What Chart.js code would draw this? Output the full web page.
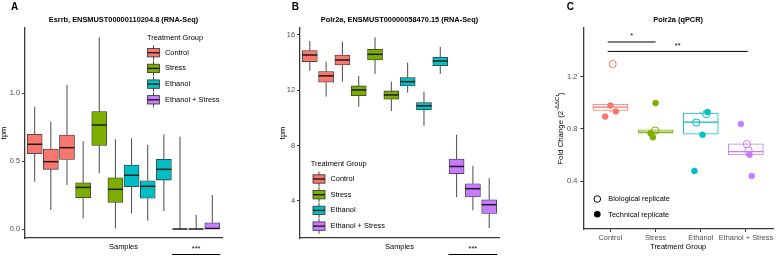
<!DOCTYPE html>
<html><head><meta charset="utf-8">
<script src="https://cdn.jsdelivr.net/npm/chart.js@4/dist/chart.umd.min.js"></script>
<style>
html,body{margin:0;padding:0;background:#fff;}
#wrap{position:relative;width:778px;height:256px;overflow:hidden;background:#fff;}
canvas{position:absolute;top:0;}
</style></head><body>
<div id="wrap">
<canvas id="cA" width="258" height="256" style="left:0px;width:258px;height:256px"></canvas>
<canvas id="cB" width="258" height="256" style="left:260px;width:258px;height:256px"></canvas>
<canvas id="cC" width="258" height="256" style="left:520px;width:258px;height:256px"></canvas>
</div>
<script>
// ---------- shared ----------
const groupNames  = ['Control', 'Stress', 'Ethanol', 'Ethanol + Stress'];
const groupColors = ['#F8766D', '#7CAE00', '#00BFC4', '#C77CFF'];

// ---------- Panel A : Esrrb (RNA-Seq), 12 samples ----------
const samplesA = [1, 2, 3, 4, 5, 6, 7, 8, 9, 10, 11, 12];
const groupA   = [0, 0, 0, 1, 1, 1, 2, 2, 2, 3, 3, 3];
const lowA  = [0.348, 0.140, 0.324, 0.079, 0.410, 0.005, 0.115, 0.061, 0.132, 0, 0, 0];
const q1A   = [0.554, 0.439, 0.512, 0.230, 0.615, 0.196, 0.311, 0.226, 0.360, 0, 0, 0];
const medA  = [0.623, 0.495, 0.598, 0.306, 0.765, 0.292, 0.395, 0.314, 0.439, 0, 0, 0.004];
const q3A   = [0.696, 0.588, 0.691, 0.340, 0.863, 0.377, 0.471, 0.355, 0.512, 0, 0, 0.046];
const highA = [0.899, 0.789, 1.059, 0.647, 1.410, 0.660, 0.667, 0.618, 0.696, 0.679, 0.103, 0.250];
const yTicksA = [0.0, 0.5, 1.0];

// ---------- Panel B : Polr2a (RNA-Seq), 12 samples ----------
const samplesB = [1, 2, 3, 4, 5, 6, 7, 8, 9, 10, 11, 12];
const groupB   = [0, 0, 0, 1, 1, 1, 2, 2, 2, 3, 3, 3];
const lowB  = [13.40, 11.54, 12.62, 10.82, 13.18, 10.50, 11.83, 9.42, 13.18, 4.26, 3.30, 2.02];
const q1B   = [14.07, 12.58, 13.83, 11.61, 14.19, 11.35, 12.31, 10.58, 13.78, 5.95, 4.27, 3.08];
const medB  = [14.55, 13.04, 14.19, 12.02, 14.60, 11.66, 12.62, 10.87, 14.12, 6.48, 4.87, 3.71];
const q3B   = [14.87, 13.35, 14.55, 12.31, 14.96, 11.95, 12.91, 11.10, 14.39, 7.01, 5.23, 4.07];
const highB = [15.57, 14.07, 15.52, 13.04, 15.83, 12.62, 14.00, 11.90, 15.15, 8.77, 6.53, 5.63];
const yTicksB = [4, 8, 12, 16];

// significance bracket under A and B (sample positions)
const sigSamplesFrom = 9.5, sigSamplesTo = 12.5, sigSamplesLabel = '***';

// ---------- Panel C : Polr2a (qPCR) ----------
const groupsC = [1, 2, 3, 4];
const lowC  = [0.925, 0.762, 0.754, 0.598];
const q1C   = [0.940, 0.767, 0.759, 0.601];
const medC  = [0.966, 0.775, 0.851, 0.626];
const q3C   = [0.989, 0.792, 0.920, 0.685];
const highC = [0.992, 0.795, 0.928, 0.690];
// biological replicates (open circles)
const bioX     = [1.05, 1.99, 2.90, 3.12, 4.02, 4.06];
const bioY     = [1.295, 0.787, 0.848, 0.913, 0.683, 0.634];
const bioGroup = [0, 1, 2, 2, 3, 3];
// technical replicates (filled circles)
const techX     = [1.00, 1.12, 0.885, 2.00, 1.89, 1.94, 3.15, 3.04, 2.86, 3.89, 4.08, 4.13];
const techY     = [0.978, 0.933, 0.894, 0.997, 0.767, 0.736, 0.928, 0.754, 0.478, 0.836, 0.601, 0.440];
const techGroup = [0, 0, 0, 1, 1, 1, 2, 2, 2, 3, 3, 3];
const yTicksC = [0.4, 0.8, 1.2];
// significance brackets
const sigCFrom  = [0.94, 0.94];
const sigCTo    = [2.00, 4.04];
const sigCY     = [1.464, 1.392];
const sigCLabel = ['*', '**'];

// ---------- styling ----------
const FONT = '"Liberation Sans", Arial, Helvetica, sans-serif';
const AX = '#3a3a3a';
const TICK_COLOR = '#4D4D4D';
const FS = 7.4;
Chart.defaults.font.family = FONT;
Chart.defaults.animation = false;

function line(ctx, x1, y1, x2, y2) { ctx.beginPath(); ctx.moveTo(x1, y1); ctx.lineTo(x2, y2); ctx.stroke(); }
function text(ctx, t, x, y, font, color, align, base) {
  ctx.font = font; ctx.fillStyle = color; ctx.textAlign = align || 'left'; ctx.textBaseline = base || 'middle';
  ctx.fillText(t, x, y);
}

// whiskers (before box) and medians (after box), from scales
const boxPlugin = {
  id: 'boxExtras',
  beforeDatasetDraw(chart, args) {
    const ds = chart.data.datasets[args.index];
    if (!ds.box) return;
    const ctx = chart.ctx, xs = chart.scales.x, ys = chart.scales.y, b = ds.box;
    ctx.save();
    ctx.lineWidth = b.whiskerWidth;
    b.x.forEach((xv, i) => {
      ctx.strokeStyle = b.whiskerColor[i];
      const px = xs.getPixelForValue(xv);
      line(ctx, px, ys.getPixelForValue(b.hi[i]), px, ys.getPixelForValue(b.q3[i]));
      line(ctx, px, ys.getPixelForValue(b.q1[i]), px, ys.getPixelForValue(b.lo[i]));
    });
    ctx.restore();
  },
  afterDatasetDraw(chart, args) {
    const ds = chart.data.datasets[args.index];
    if (!ds.box) return;
    const ctx = chart.ctx, xs = chart.scales.x, ys = chart.scales.y, b = ds.box;
    ctx.save();
    ctx.lineWidth = b.medianWidth;
    const hw = ds.barThickness / 2;
    b.x.forEach((xv, i) => {
      ctx.strokeStyle = b.medianColor[i];
      const px = xs.getPixelForValue(xv), py = ys.getPixelForValue(b.med[i]);
      line(ctx, px - hw, py, px + hw, py);
    });
    ctx.restore();
  }
};

function drawBoxLegend(ctx, titleX, titleY, keyX, keyY0, labelX) {
  text(ctx, 'Treatment Group', titleX, titleY, FS + 'px ' + FONT, '#000', 'left', 'middle');
  groupNames.forEach((g, i) => {
    const cy = keyY0 + i * 15.7, w = 12;
    ctx.save();
    ctx.strokeStyle = '#333'; ctx.lineWidth = 0.9;
    line(ctx, keyX + w / 2, cy - 7.5, keyX + w / 2, cy + 7.5);
    ctx.fillStyle = groupColors[i];
    ctx.fillRect(keyX, cy - 4.2, w, 8.4);
    ctx.lineWidth = 0.8;
    ctx.strokeRect(keyX, cy - 4.2, w, 8.4);
    ctx.strokeStyle = '#1a1a1a'; ctx.lineWidth = 1.4;
    line(ctx, keyX, cy, keyX + w, cy);
    ctx.restore();
    text(ctx, g, labelX, cy, FS + 'px ' + FONT, '#000', 'left', 'middle');
  });
}

function rnaChart(id, cfg) {
  const annot = {
    id: 'annot_' + id,
    afterDraw(chart) {
      const ctx = chart.ctx, ca = chart.chartArea, xs = chart.scales.x;
      ctx.save();
      text(ctx, cfg.letter, cfg.letterX, 9.6, 'bold 10px ' + FONT, '#000', 'left', 'alphabetic');
      text(ctx, cfg.title, (ca.left + ca.right) / 2, 19.6, 'bold ' + FS + 'px ' + FONT, '#000', 'center', 'middle');
      drawBoxLegend(ctx, ...cfg.legend);
      const x1 = xs.getPixelForValue(sigSamplesFrom), x2 = xs.getPixelForValue(sigSamplesTo);
      ctx.strokeStyle = '#000'; ctx.lineWidth = 1;
      line(ctx, x1, 254.5, x2, 254.5);
      text(ctx, sigSamplesLabel, (x1 + x2) / 2, 251, FS + 'px ' + FONT, '#000', 'center', 'alphabetic');
      ctx.restore();
    }
  };
  return new Chart(document.getElementById(id), {
    type: 'bar',
    data: { datasets: [{
      data: cfg.samples.map((s, i) => ({ x: s, y: [cfg.q1[i], cfg.q3[i]] })),
      backgroundColor: cfg.group.map(g => groupColors[g]),
      borderColor: '#333333', borderWidth: 0.8, borderSkipped: false,
      barThickness: 15,
      box: { x: cfg.samples, lo: cfg.lo, q1: cfg.q1, med: cfg.med, q3: cfg.q3, hi: cfg.hi,
             whiskerColor: cfg.samples.map(() => '#4a4a4a'), whiskerWidth: 1,
             medianColor: cfg.samples.map(() => '#1a1a1a'), medianWidth: 1.5 }
    }]},
    options: {
      responsive: false, animation: false, devicePixelRatio: 1,
      layout: { padding: cfg.padding },
      plugins: { legend: { display: false }, tooltip: { enabled: false }, title: { display: false } },
      scales: {
        x: {
          type: 'linear', min: 0.4, max: 12.6, offset: false,
          grid: { display: true, drawOnChartArea: false, drawTicks: false, offset: false },
          border: { display: true, color: AX, width: 1.3 },
          ticks: { display: false },
          title: { display: true, text: 'Samples', color: '#000', font: { family: FONT, size: FS }, padding: { top: 0, bottom: 4.3 } },
          afterFit: s => { s.height = 18; }
        },
        y: {
          type: 'linear', min: cfg.yMin, max: cfg.yMax, beginAtZero: false,
          grid: { display: true, drawOnChartArea: false, drawTicks: true, tickLength: 3, color: AX },
          border: { display: true, color: AX, width: 1.3 },
          ticks: { color: TICK_COLOR, font: { family: FONT, size: FS }, padding: 2, callback: cfg.fmt },
          afterBuildTicks: s => { s.ticks = cfg.yTicks.map(v => ({ value: v })); },
          title: { display: true, text: 'tpm', color: '#000', font: { family: FONT, size: FS }, padding: 0 },
          afterFit: s => { s.width = cfg.yWidth; }
        }
      }
    },
    plugins: [boxPlugin, annot]
  });
}

rnaChart('cA', {
  letter: 'A', letterX: 11, title: 'Esrrb, ENSMUST00000110204.8 (RNA-Seq)',
  samples: samplesA, group: groupA, lo: lowA, q1: q1A, med: medA, q3: q3A, hi: highA,
  yMin: -0.066, yMax: 1.478, yTicks: yTicksA, fmt: v => Number(v).toFixed(1),
  padding: { left: 0, top: 28, right: 36, bottom: 0 }, yWidth: 25,
  legend: [147, 37.8, 147.5, 52.7, 165]
});

rnaChart('cB', {
  letter: 'B', letterX: 31.7, title: 'Polr2a, ENSMUST00000058470.15 (RNA-Seq)',
  samples: samplesB, group: groupB, lo: lowB, q1: q1B, med: medB, q3: q3B, hi: highB,
  yMin: 1.30, yMax: 16.506, yTicks: yTicksB, fmt: v => String(v),
  padding: { left: 19, top: 28, right: 19, bottom: 0 }, yWidth: 21,
  legend: [50.7, 164.3, 53, 179, 70.5]
});

// ---------- Panel C ----------
const annotC = {
  id: 'annotC',
  afterDraw(chart) {
    const ctx = chart.ctx, ca = chart.chartArea, xs = chart.scales.x, ys = chart.scales.y;
    ctx.save();
    text(ctx, 'C', 46.7, 9.6, 'bold 10px ' + FONT, '#000', 'left', 'alphabetic');
    text(ctx, 'Polr2a (qPCR)', (ca.left + ca.right) / 2, 19.6, 'bold ' + FS + 'px ' + FONT, '#000', 'center', 'middle');
    // significance brackets
    ctx.strokeStyle = '#000'; ctx.lineWidth = 1;
    sigCFrom.forEach((f, i) => {
      const x1 = xs.getPixelForValue(f), x2 = xs.getPixelForValue(sigCTo[i]), py = ys.getPixelForValue(sigCY[i]);
      line(ctx, x1, py, x2, py);
      text(ctx, sigCLabel[i], (x1 + x2) / 2, py - 3.8, FS + 'px ' + FONT, '#000', 'center', 'alphabetic');
    });
    // y title with superscript
    ctx.save();
    ctx.translate(40, (ca.top + ca.bottom) / 2);
    ctx.rotate(-Math.PI / 2);
    const mainF = '7.8px ' + FONT, supF = '6px ' + FONT;
    const t1 = 'Fold Change (2', t2 = '-ΔΔCt', t3 = ')';
    ctx.font = mainF; const w1 = ctx.measureText(t1).width, w3 = ctx.measureText(t3).width;
    ctx.font = supF; const w2 = ctx.measureText(t2).width;
    let sx = -(w1 + w2 + w3) / 2;
    text(ctx, t1, sx, 2.8, mainF, '#000', 'left', 'alphabetic'); sx += w1;
    text(ctx, t2, sx, -1, supF, '#000', 'left', 'alphabetic'); sx += w2;
    text(ctx, t3, sx, 2.8, mainF, '#000', 'left', 'alphabetic');
    ctx.restore();
    // legend
    const lx = 77.3;
    ctx.strokeStyle = '#000'; ctx.lineWidth = 1;
    ctx.beginPath(); ctx.arc(lx, 199, 3.3, 0, Math.PI * 2); ctx.stroke();
    ctx.fillStyle = '#000';
    ctx.beginPath(); ctx.arc(lx, 214.3, 3.3, 0, Math.PI * 2); ctx.fill();
    text(ctx, 'Biological replicate', 88.3, 199.3, FS + 'px ' + FONT, '#000', 'left', 'middle');
    text(ctx, 'Technical replicate', 88.3, 214.6, FS + 'px ' + FONT, '#000', 'left', 'middle');
    ctx.restore();
  }
};

new Chart(document.getElementById('cC'), {
  type: 'bar',
  data: { datasets: [
    {
      type: 'bar', order: 3,
      data: groupsC.map((g, i) => ({ x: g, y: [q1C[i], q3C[i]] })),
      backgroundColor: '#ffffff',
      borderColor: groupColors, borderWidth: 1, borderSkipped: false,
      barThickness: 35,
      box: { x: groupsC, lo: lowC, q1: q1C, med: medC, q3: q3C, hi: highC,
             whiskerColor: groupColors, whiskerWidth: 1,
             medianColor: groupColors, medianWidth: 1.3 }
    },
    {
      type: 'scatter', order: 2,
      data: techX.map((x, i) => ({ x: x, y: techY[i] })),
      pointRadius: 3, pointBorderWidth: 0.5,
      pointBackgroundColor: techGroup.map(g => groupColors[g]),
      pointBorderColor: techGroup.map(g => groupColors[g])
    },
    {
      type: 'scatter', order: 1,
      data: bioX.map((x, i) => ({ x: x, y: bioY[i] })),
      pointRadius: 3.6, pointBorderWidth: 1,
      pointBackgroundColor: 'rgba(255,255,255,0)',
      pointBorderColor: bioGroup.map(g => groupColors[g])
    }
  ]},
  options: {
    responsive: false, animation: false, devicePixelRatio: 1,
    layout: { padding: { left: 0, top: 28, right: 1.4, bottom: 0 } },
    plugins: { legend: { display: false }, tooltip: { enabled: false }, title: { display: false } },
    scales: {
      x: {
        type: 'linear', min: 0.4, max: 4.6, offset: false,
        grid: { display: true, drawOnChartArea: false, drawTicks: true, tickLength: 3, color: AX, offset: false },
        border: { display: true, color: AX, width: 1.3 },
        ticks: { color: TICK_COLOR, font: { family: FONT, size: FS }, padding: 2, autoSkip: false, maxRotation: 0,
                 callback: v => groupNames[v - 1] },
        afterBuildTicks: s => { s.ticks = groupsC.map(v => ({ value: v })); },
        title: { display: true, text: 'Treatment Group', color: '#000', font: { family: FONT, size: FS }, padding: { top: 0, bottom: 4.5 } },
        afterFit: s => { s.height = 27; }
      },
      y: {
        type: 'linear', min: 0.034, max: 1.571, beginAtZero: false,
        grid: { display: true, drawOnChartArea: false, drawTicks: true, tickLength: 3, color: AX },
        border: { display: true, color: AX, width: 1.3 },
        ticks: { color: TICK_COLOR, font: { family: FONT, size: FS }, padding: 3, callback: v => Number(v).toFixed(1) },
        afterBuildTicks: s => { s.ticks = yTicksC.map(v => ({ value: v })); },
        title: { display: false },
        afterFit: s => { s.width = 63.3; }
      }
    }
  },
  plugins: [boxPlugin, annotC]
});
</script>
</body></html>
